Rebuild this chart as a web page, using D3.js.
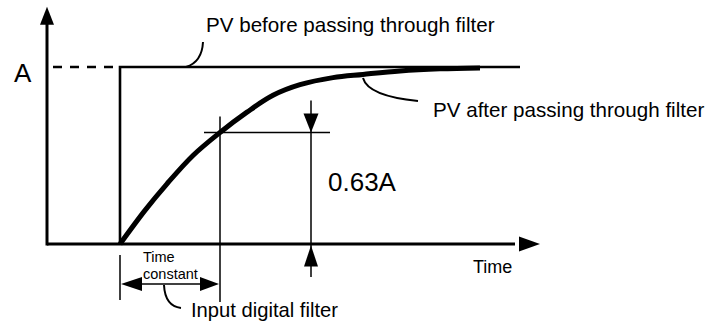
<!DOCTYPE html>
<html>
<head>
<meta charset="utf-8">
<script src="https://cdn.jsdelivr.net/npm/d3@7"></script>
<style>
  html, body { margin: 0; padding: 0; background: #fff; }
  svg { display: block; }
  text { font-family: "Liberation Sans", Arial, Helvetica, sans-serif; fill: #000; }
</style>
</head>
<body>
<svg id="chart" width="709" height="326"></svg>
<script>
// Time in units of the filter time constant, value as a fraction of the step A
const stepTime = [0, 0, 4.0];
const stepValue = [0, 1, 1];

// PV after passing through the first-order input filter
const filteredTime  = [0, 0.25, 0.47, 0.73, 1.0, 1.27, 1.53, 1.8, 2.13, 2.43, 2.8, 3.2, 3.6];
const filteredValue = [0, 0.19, 0.34, 0.50, 0.63, 0.745, 0.84, 0.90, 0.94, 0.958, 0.978, 0.99, 0.995];

const timeConstant = 1.0;
const responseLevel = 0.63;      // response after one time constant
const levelLabel = "0.63A";
const stepLabel = "A";
const axisLabel = "Time";
const beforeLabel = "PV before passing through filter";
const afterLabel = "PV after passing through filter";
const tcLabel = ["Time", "constant"];
const filterLabel = "Input digital filter";

const svg = d3.select("#chart");
const x = d3.scaleLinear().domain([-0.73, 4.2]).range([47, 540]);
const y = d3.scaleLinear().domain([0, 1]).range([244, 67]);

const x0 = x(0), y0 = y(0);
const yTop = y(1.34);

// arrowhead helper: tip at (tx,ty), pointing in direction (dx,dy)
function arrowHead(tx, ty, dx, dy, len, half) {
  const bx = tx - dx * len, by = ty - dy * len;
  const px = -dy * half, py = dx * half;
  return `M${tx},${ty}L${bx + px},${by + py}L${bx - px},${by - py}Z`;
}

// axes
svg.append("line").attr("x1", x(-0.73)).attr("y1", y0).attr("x2", x(3.95)).attr("y2", y0)
  .attr("stroke", "#000").attr("stroke-width", 3);
svg.append("path").attr("d", arrowHead(x(4.2), y0, 1, 0, 21, 7.5)).attr("fill", "#000");
svg.append("line").attr("x1", x(-0.73)).attr("y1", y0 + 1.5).attr("x2", x(-0.73)).attr("y2", yTop + 15)
  .attr("stroke", "#000").attr("stroke-width", 3);
svg.append("path").attr("d", arrowHead(x(-0.73), yTop, 0, -1, 18, 7)).attr("fill", "#000");

// dashed reference level A
svg.append("line").attr("x1", x(-0.67)).attr("x2", x(-0.07)).attr("y1", y(1)).attr("y2", y(1))
  .attr("stroke", "#000").attr("stroke-width", 2.5).attr("stroke-dasharray", "9,8");

// step input (PV before filter)
const stepPts = stepTime.map((t, i) => [x(t), y(stepValue[i])]);
svg.append("path").attr("d", d3.line()(stepPts))
  .attr("fill", "none").attr("stroke", "#000").attr("stroke-width", 2.6);

// filtered response
const respPts = filteredTime.map((t, i) => [x(t), y(filteredValue[i])]);
svg.append("path").attr("d", d3.line().curve(d3.curveCatmullRom.alpha(0.5))(respPts))
  .attr("fill", "none").attr("stroke", "#000").attr("stroke-width", 5)
  .attr("stroke-linecap", "butt");

// time-constant construction lines
const xt = x(timeConstant), yl = y(responseLevel);
const xd = x(1.91);
function thinLine(x1, y1, x2, y2) {
  return svg.append("line").attr("x1", x1).attr("y1", y1).attr("x2", x2).attr("y2", y2)
    .attr("stroke", "#000").attr("stroke-width", 1.5);
}
thinLine(xt - 16, yl, xd + 19, yl);
thinLine(xt, yl - 16, xt, y0 + 58);
thinLine(x0, y0 + 11, x0, y0 + 56);

// 0.63A dimension
thinLine(xd, yl - 32, xd, y0 + 33);
svg.append("path").attr("d", arrowHead(xd, yl, 0, 1, 19, 7.5)).attr("fill", "#000");
svg.append("path").attr("d", arrowHead(xd, y0 + 1.5, 0, -1, 21, 7)).attr("fill", "#000");

// time-constant span arrow
const ya = y0 + 40;
thinLine(x0 + 10, ya, xt - 10, ya);
svg.append("path").attr("d", arrowHead(x0 + 1, ya, -1, 0, 21, 7)).attr("fill", "#000");
svg.append("path").attr("d", arrowHead(xt - 1, ya, 1, 0, 19, 7)).attr("fill", "#000");

// leader lines
const leader = (d) => svg.append("path").attr("d", d).attr("fill", "none")
  .attr("stroke", "#000").attr("stroke-width", 2);
const lb = [x(0.66), y(1)];
leader(`M${lb[0]},${lb[1]}Q${lb[0] + 16},${lb[1] - 5} ${lb[0] + 17},${lb[1] - 25}`);
const la = [x(2.43), y(0.955) + 3];
leader(`M${la[0]},${la[1]}Q${la[0] + 5},${la[1] + 18} ${la[0] + 55},${la[1] + 23}`);
const lf = [x(0.44), ya + 1];
leader(`M${lf[0]},${lf[1]}Q${lf[0] + 1},${lf[1] + 21} ${lf[0] + 17},${lf[1] + 23}`);

// labels
svg.append("text").attr("x", 14).attr("y", 82).attr("font-size", 26).text(stepLabel);
svg.append("text").attr("x", 328).attr("y", 191).attr("font-size", 26).text(levelLabel);
svg.append("text").attr("x", 206).attr("y", 32).attr("font-size", 20.6).text(beforeLabel);
svg.append("text").attr("x", 433).attr("y", 117).attr("font-size", 20.6).text(afterLabel);
svg.append("text").attr("x", 473).attr("y", 273).attr("font-size", 18).text(axisLabel);
svg.append("text").attr("x", 191).attr("y", 317).attr("font-size", 20.2).text(filterLabel);
svg.append("text").attr("x", 143).attr("y", 262).attr("font-size", 14.5).text(tcLabel[0]);
svg.append("text").attr("x", 143).attr("y", 279).attr("font-size", 14.5).text(tcLabel[1]);
</script>
</body>
</html>
